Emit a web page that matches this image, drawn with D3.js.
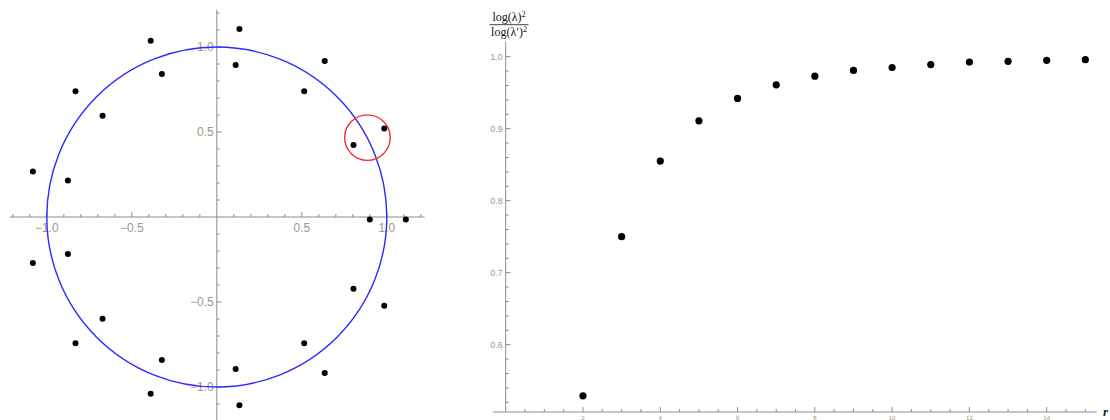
<!DOCTYPE html>
<html><head><meta charset="utf-8">
<script src="https://cdn.jsdelivr.net/npm/d3@7"></script>
<style>body{margin:0;background:#fff}svg{display:block}</style>
</head><body>
<svg id="c" width="1110" height="420"></svg>
<script>
// ---- Left chart: root locations in the complex plane ----
const rootsRe = [-1.082,-0.876,-0.831,-0.672,-0.389,-0.323,0.133,0.111,0.514,0.635,0.804,0.985,
                 -1.082,-0.876,-0.672,-0.831,-0.323,-0.389,0.111,0.133,0.514,0.635,0.804,0.985,
                 0.900,1.112];
const rootsIm = [0.268,0.215,0.740,0.596,1.037,0.841,1.106,0.894,0.740,0.917,0.424,0.520,
                 -0.271,-0.218,-0.599,-0.743,-0.841,-1.040,-0.894,-1.108,-0.743,-0.917,-0.422,-0.522,
                 -0.015,-0.015];
const unitCircle = {re:0, im:0, r:1};
const highlight = {re:0.886, im:0.467, r:0.134};
const leftTickLabels = ["−1.0","−0.5","0.5","1.0"];
const leftTickValues = [-1.0,-0.5,0.5,1.0];

// ---- Right chart: ratio vs r ----
const rValues = [2,3,4,5,6,7,8,9,10,11,12,13,14,15];
const ratioValues = [0.529,0.750,0.855,0.911,0.942,0.961,0.973,0.981,0.985,0.989,0.9926,0.9936,0.995,0.9958];
const rightXTicks = [2,4,6,8,10,12,14];
const rightYTicks = [0.6,0.7,0.8,0.9,1.0];

const svg = d3.select("#c");
const axisCol = "#8c8c8c", labCol = "#a39684";

// ===== Left =====
const xL = d3.scaleLinear().domain([-1,1]).range([46.8,386.8]);
const yL = d3.scaleLinear().domain([-1,1]).range([387,47]);
const L = svg.append("g");
L.append("line").attr("x1",xL(-1.218)).attr("x2",xL(1.222)).attr("y1",yL(0)).attr("y2",yL(0)).attr("stroke",axisCol);
L.append("line").attr("x1",xL(0)).attr("x2",xL(0)).attr("y1",yL(1.22)).attr("y2",yL(-1.25)).attr("stroke",axisCol);
const minorL = d3.range(-12,13).map(d=>d/10).filter(d=>d!==0);
L.selectAll(".xt").data(minorL).join("line")
  .attr("x1",d=>xL(d)).attr("x2",d=>xL(d))
  .attr("y1",yL(0)).attr("y2",d=>yL(0)-(Math.abs(d*2-Math.round(d*2))<1e-9?5:3))
  .attr("stroke",axisCol);
L.selectAll(".yt").data(minorL).join("line")
  .attr("y1",d=>yL(d)).attr("y2",d=>yL(d))
  .attr("x1",xL(0)).attr("x2",d=>xL(0)+(Math.abs(d*2-Math.round(d*2))<1e-9?5:3))
  .attr("stroke",axisCol);
L.selectAll(".xl").data(leftTickValues).join("text")
  .attr("x",d=>xL(d)).attr("y",yL(0)+15).attr("text-anchor","middle")
  .attr("font-family","Liberation Sans, Arial, sans-serif").attr("font-size",12).attr("fill",labCol)
  .text((d,i)=>leftTickLabels[i]);
L.selectAll(".yl").data(leftTickValues).join("text")
  .attr("x",xL(0)-3).attr("y",d=>yL(d)+4).attr("text-anchor","end")
  .attr("font-family","Liberation Sans, Arial, sans-serif").attr("font-size",12).attr("fill",labCol)
  .text((d,i)=>leftTickLabels[i]);
L.append("circle").attr("cx",xL(unitCircle.re)).attr("cy",yL(unitCircle.im))
  .attr("r",xL(unitCircle.r)-xL(0)).attr("fill","none").attr("stroke","#2a2aff").attr("stroke-width",1.4);
L.append("circle").attr("cx",xL(highlight.re)).attr("cy",yL(highlight.im))
  .attr("r",xL(highlight.r)-xL(0)).attr("fill","none").attr("stroke","#f03030").attr("stroke-width",1.4);
L.selectAll(".pt").data(rootsRe).join("circle")
  .attr("cx",d=>xL(d)).attr("cy",(d,i)=>yL(rootsIm[i])).attr("r",3).attr("fill","#000");

// ===== Right =====
const xR = d3.scaleLinear().domain([0,14]).range([505.7,1046.7]);
const yR = d3.scaleLinear().domain([0.6,1.0]).range([344.7,56.7]);
const R = svg.append("g");
const yAxisBase = 0.5065;
R.append("line").attr("x1",xR(-0.33)).attr("x2",xR(15.3)).attr("y1",yR(yAxisBase)).attr("y2",yR(yAxisBase)).attr("stroke",axisCol);
R.append("line").attr("x1",xR(0)).attr("x2",xR(0)).attr("y1",yR(yAxisBase)).attr("y2",yR(1.021)).attr("stroke",axisCol);
const xMinorR = d3.range(1,31).map(d=>d/2);
R.selectAll(".xt").data(xMinorR).join("line")
  .attr("x1",d=>xR(d)).attr("x2",d=>xR(d))
  .attr("y1",yR(yAxisBase)).attr("y2",d=>yR(yAxisBase)-(d%2===0?5:3))
  .attr("stroke",axisCol);
const yMinorR = d3.range(26,51).map(d=>d/50);
R.selectAll(".yt").data(yMinorR).join("line")
  .attr("y1",d=>yR(d)).attr("y2",d=>yR(d))
  .attr("x1",xR(0)).attr("x2",d=>xR(0)+((Math.round(d*50))%5===0?5:3))
  .attr("stroke",axisCol);
R.selectAll(".xl").data(rightXTicks).join("text")
  .attr("x",d=>xR(d)).attr("y",yR(yAxisBase)+8).attr("text-anchor","middle")
  .attr("font-family","Liberation Sans, Arial, sans-serif").attr("font-size",6).attr("fill",labCol)
  .text(d=>d);
R.selectAll(".yl").data(rightYTicks).join("text")
  .attr("x",xR(0)-3).attr("y",d=>yR(d)+3).attr("text-anchor","end")
  .attr("font-family","Liberation Sans, Arial, sans-serif").attr("font-size",9).attr("fill",labCol)
  .text(d=>d3.format(".1f")(d));
R.append("text").attr("x",xR(15.3)+6).attr("y",yR(yAxisBase)+4)
  .attr("font-family","Liberation Serif, Times New Roman, serif").attr("font-size",13)
  .attr("font-style","italic").attr("font-weight","bold").attr("fill","#222").text("r");
const fx = 509;
R.append("text").attr("x",fx).attr("y",21).attr("text-anchor","middle")
  .attr("font-family","Liberation Serif, Times New Roman, serif").attr("font-size",12).attr("fill","#111")
  .html('log(λ)<tspan font-size="8" dy="-4">2</tspan>');
R.append("line").attr("x1",489.5).attr("x2",528.5).attr("y1",24.7).attr("y2",24.7).attr("stroke","#111").attr("stroke-width",0.8);
R.append("text").attr("x",fx).attr("y",36).attr("text-anchor","middle")
  .attr("font-family","Liberation Serif, Times New Roman, serif").attr("font-size",12).attr("fill","#111")
  .html('log(λ′)<tspan font-size="8" dy="-4">2</tspan>');
R.selectAll(".pt").data(rValues).join("circle")
  .attr("cx",d=>xR(d)).attr("cy",(d,i)=>yR(ratioValues[i])).attr("r",3.6).attr("fill","#000");
</script>
</body></html>
